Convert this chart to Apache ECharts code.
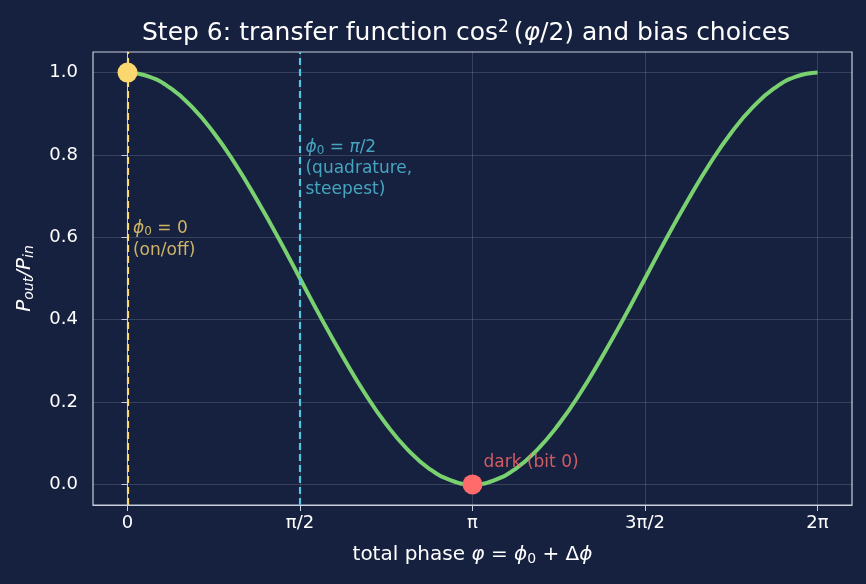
<!DOCTYPE html>
<html>
<head>
<meta charset="utf-8">
<script src="https://cdn.jsdelivr.net/npm/echarts@6/dist/echarts.min.js"></script>
<style>
  html, body { margin: 0; padding: 0; background: #16203f; }
  #chart { width: 866px; height: 584px; }
</style>
</head>
<body>
<div id="chart"></div>
<script>
// sample phases 0 .. 2π, step π/16
const phase = Array.from({ length: 33 }, (_, k) => k * Math.PI / 16);
// transmitted power
const power = [
  1.000, 0.990, 0.962, 0.916, 0.854, 0.778, 0.691, 0.598,
  0.500, 0.402, 0.309, 0.222, 0.146, 0.084, 0.038, 0.010,
  0.000, 0.010, 0.038, 0.084, 0.146, 0.222, 0.309, 0.402,
  0.500, 0.598, 0.691, 0.778, 0.854, 0.916, 0.962, 0.990, 1.000,
];
const xTicks = [0, Math.PI / 2, Math.PI, 3 * Math.PI / 2, 2 * Math.PI];
const xTickLabels = ['0', 'π/2', 'π', '3π/2', '2π'];
const yTicks = [0, 0.2, 0.4, 0.6, 0.8, 1.0];
const biasPhase = [0, Math.PI / 2];
const onPoint = [0, 1];
const darkPoint = [Math.PI, 0];

const BG = '#16203f';
const FG = '#ffffff';
const FRAME = '#c9cfdc';
const GREEN = '#79d16f';
const YELLOW = '#fad86f';
const CYAN = '#52c6df';
const RED = '#ff6b6b';
const FONT = 'DejaVu Sans';

const chart = echarts.init(document.getElementById('chart'));

const it = (size, color) => ({ fontStyle: 'italic', fontSize: size, color, fontFamily: FONT });
const sub = (size, color, drop) => ({ fontSize: size, color, fontFamily: FONT, padding: [drop, 0, 0, 0] });

chart.setOption({
  backgroundColor: BG,
  animation: false,
  title: {
    text: 'Step 6: transfer function cos{sup|2}\u2009({it|φ}/2) and bias choices',
    left: 137,
    top: 14,
    textStyle: {
      color: FG,
      fontSize: 25,
      fontWeight: 'normal',
      fontFamily: FONT,
      rich: {
        sup: { fontSize: 17, color: FG, fontFamily: FONT, padding: [0, 0, 12, 0] },
        it: it(25, FG),
      },
    },
  },
  grid: { left: 93, right: 14, top: 52, bottom: 79, show: true, borderColor: FRAME, borderWidth: 1.2 },
  xAxis: {
    type: 'value',
    min: -0.1 * Math.PI,
    max: 2.1 * Math.PI,
    axisLine: { show: true, onZero: false, lineStyle: { color: FRAME } },
    axisTick: { show: true, length: 6, customValues: xTicks, lineStyle: { color: FRAME } },
    axisLabel: {
      customValues: xTicks,
      color: FG,
      fontSize: 18,
      fontFamily: FONT,
      margin: 9,
      formatter: (v) => xTickLabels[Math.round(v / (Math.PI / 2))],
    },
    splitLine: { show: true, lineStyle: { color: 'rgba(255,255,255,0.15)', width: 1 } },
    name: 'total phase {it|φ} = {it|ϕ}{sub|0} + Δ{it|ϕ}',
    nameLocation: 'middle',
    nameGap: 39,
    nameTextStyle: {
      color: FG,
      fontSize: 20,
      fontFamily: FONT,
      rich: { it: it(20, FG), sub: sub(14, FG, 8) },
    },
  },
  yAxis: {
    type: 'value',
    min: -0.05,
    max: 1.05,
    axisLine: { show: true, lineStyle: { color: FRAME } },
    axisTick: { show: true, length: 6, customValues: yTicks, lineStyle: { color: FRAME } },
    axisLabel: {
      customValues: yTicks,
      color: FG,
      fontSize: 18,
      fontFamily: FONT,
      margin: 15,
      formatter: (v) => v.toFixed(1),
    },
    splitLine: { show: true, lineStyle: { color: 'rgba(255,255,255,0.15)', width: 1 } },
    name: '{it|P}{s|out}{it|/P}{s|in}',
    nameLocation: 'middle',
    nameGap: 57,
    nameTextStyle: {
      color: FG,
      fontSize: 20,
      fontFamily: FONT,
      rich: { it: it(20, FG), s: { fontStyle: 'italic', fontSize: 14, color: FG, fontFamily: FONT, padding: [9, 0, 0, 0] } },
    },
  },
  series: [
    {
      type: 'line',
      data: phase.map((p, i) => [p, power[i]]),
      smooth: true,
      showSymbol: false,
      lineStyle: { color: GREEN, width: 4 },
      z: 3,
      markLine: {
        silent: true,
        symbol: 'none',
        label: { show: false },
        z: 4,
        data: biasPhase.map((p, i) => ({
          xAxis: p,
          lineStyle: { color: i === 0 ? YELLOW : CYAN, type: [7, 4], width: 2.2 },
        })),
      },
    },
    {
      type: 'scatter',
      data: [onPoint],
      symbolSize: 20,
      itemStyle: { color: YELLOW, opacity: 1 },
      z: 5,
    },
    {
      type: 'scatter',
      data: [darkPoint],
      symbolSize: 20,
      itemStyle: { color: RED, opacity: 1 },
      z: 5,
    },
    {
      type: 'scatter',
      symbolSize: 0,
      z: 6,
      data: [
        {
          value: [0.05, 0.541],
          label: {
            show: true, position: [0, 0], align: 'left', verticalAlign: 'bottom',
            color: YELLOW, fontSize: 17, fontFamily: FONT, lineHeight: 22,
            formatter: '{it|ϕ}{s|0} = 0\n(on/off)',
            rich: { it: it(17, YELLOW), s: sub(12, YELLOW, 7) },
          },
        },
        {
          value: [Math.PI / 2 + 0.05, 0.69],
          label: {
            show: true, position: [0, 0], align: 'left', verticalAlign: 'bottom',
            color: CYAN, fontSize: 17, fontFamily: FONT, lineHeight: 21,
            formatter: '{it|ϕ}{s|0} = {it|π}/2\n(quadrature,\nsteepest)',
            rich: { it: it(17, CYAN), s: sub(12, CYAN, 7) },
          },
        },
        {
          value: [Math.PI + 0.1, 0.029],
          label: {
            show: true, position: [0, 0], align: 'left', verticalAlign: 'bottom',
            color: RED, fontSize: 17, fontFamily: FONT, lineHeight: 20,
            formatter: 'dark (bit 0)',
          },
        },
      ],
    },
  ],
});
</script>
</body>
</html>
